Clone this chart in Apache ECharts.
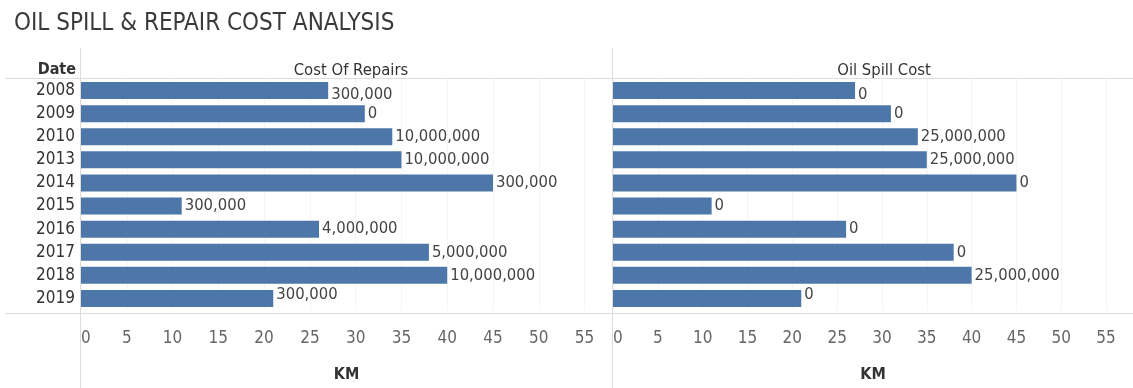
<!DOCTYPE html>
<html>
<head>
<meta charset="utf-8">
<script src="https://cdn.jsdelivr.net/npm/echarts@6/dist/echarts.min.js"></script>
<style>
  html, body { margin: 0; padding: 0; background: #fff; }
  #chart { width: 1133px; height: 388px; }
</style>
</head>
<body>
<div id="chart"></div>
<script>
// Distance (KM) per year, with the cost figures shown as bar labels
const years = ['2008', '2009', '2010', '2013', '2014', '2015', '2016', '2017', '2018', '2019'];
const kmValues = [27, 31, 34, 35, 45, 11, 26, 38, 40, 21];
const repairCost = [300000, 0, 10000000, 10000000, 300000, 300000, 4000000, 5000000, 10000000, 300000];
const spillCost = [0, 0, 25000000, 25000000, 0, 0, 0, 0, 25000000, 0];
const panelTitles = ['Cost Of Repairs', 'Oil Spill Cost'];

const FONT = "'Liberation Sans Narrow', 'DejaVu Sans Condensed', 'Liberation Sans', sans-serif";
const BAR_COLOR = '#4c77a8';
const RULE = '#dcdcdc';

const fmt = v => v.toLocaleString('en-US');

// first and last labels are nudged inward so they stay inside the panel
function barData(values) {
  return values.map((v, i) => {
    const item = { value: v };
    if (i === 0) item.label = { offset: [0, 4] };
    if (i === values.length - 1) item.label = { offset: [0, -4] };
    return item;
  });
}

const grids = [
  { left: 81, top: 79, width: 531, height: 233 },
  { left: 613, top: 79, width: 531, height: 233 }
];

function xAxisFor(idx) {
  return {
    type: 'value', gridIndex: idx, min: 0, max: 58, interval: 5,
    name: 'KM', nameLocation: 'middle', nameGap: 57,
    nameTextStyle: { fontFamily: FONT, fontSize: 16, fontWeight: 'bold', color: '#333' },
    axisLine: { show: false }, axisTick: { show: false },
    axisLabel: {
      fontFamily: FONT, fontSize: 17, color: '#666', margin: 20,
      showMaxLabel: false, alignMinLabel: 'left'
    },
    splitLine: { show: true, lineStyle: { color: '#f5f5f5', width: 1 } }
  };
}

function yAxisFor(idx) {
  return {
    type: 'category', gridIndex: idx, data: years, inverse: true,
    axisLine: { show: false }, axisTick: { show: false },
    axisLabel: idx === 0
      ? { fontFamily: FONT, fontSize: 17, color: '#333', margin: 6, interval: 0 }
      : { show: false },
    splitLine: { show: false }
  };
}

function barSeries(idx, costs) {
  return {
    type: 'bar', xAxisIndex: idx, yAxisIndex: idx,
    data: barData(kmValues), barWidth: 17,
    itemStyle: { color: BAR_COLOR },
    label: {
      show: true, position: 'right', distance: 3,
      fontFamily: FONT, fontSize: 16.5, color: '#444',
      formatter: p => fmt(costs[p.dataIndex])
    },
    silent: true
  };
}

const chart = echarts.init(document.getElementById('chart'), null, { renderer: 'canvas' });

chart.setOption({
  animation: false,
  backgroundColor: '#fff',
  title: [
    { text: 'OIL SPILL & REPAIR COST ANALYSIS', left: 9, top: 7,
      textStyle: { fontFamily: FONT, fontSize: 24, fontWeight: 'normal', color: '#3a3a3a' } },
    { text: 'Date', left: 71, top: 57, textAlign: 'right',
      textStyle: { fontFamily: FONT, fontSize: 16, fontWeight: 'bold', color: '#333' } },
    { text: panelTitles[0], left: 346, top: 57, textAlign: 'center',
      textStyle: { fontFamily: FONT, fontSize: 16.5, fontWeight: 'normal', color: '#333' } },
    { text: panelTitles[1], left: 879, top: 57, textAlign: 'center',
      textStyle: { fontFamily: FONT, fontSize: 16.5, fontWeight: 'normal', color: '#333' } }
  ],
  grid: grids,
  xAxis: [xAxisFor(0), xAxisFor(1)],
  yAxis: [yAxisFor(0), yAxisFor(1)],
  series: [barSeries(0, repairCost), barSeries(1, spillCost)],
  graphic: [
    // header and footer rules, panel dividers
    { type: 'line', shape: { x1: 5, y1: 78.5, x2: 1133, y2: 78.5 }, style: { stroke: RULE, lineWidth: 1 }, z: 10 },
    { type: 'line', shape: { x1: 5, y1: 313.5, x2: 1133, y2: 313.5 }, style: { stroke: RULE, lineWidth: 1 }, z: 10 },
    { type: 'line', shape: { x1: 80.5, y1: 48, x2: 80.5, y2: 388 }, style: { stroke: RULE, lineWidth: 1 }, z: 10 },
    { type: 'line', shape: { x1: 612.5, y1: 48, x2: 612.5, y2: 388 }, style: { stroke: RULE, lineWidth: 1 }, z: 10 }
  ]
});
</script>
</body>
</html>
